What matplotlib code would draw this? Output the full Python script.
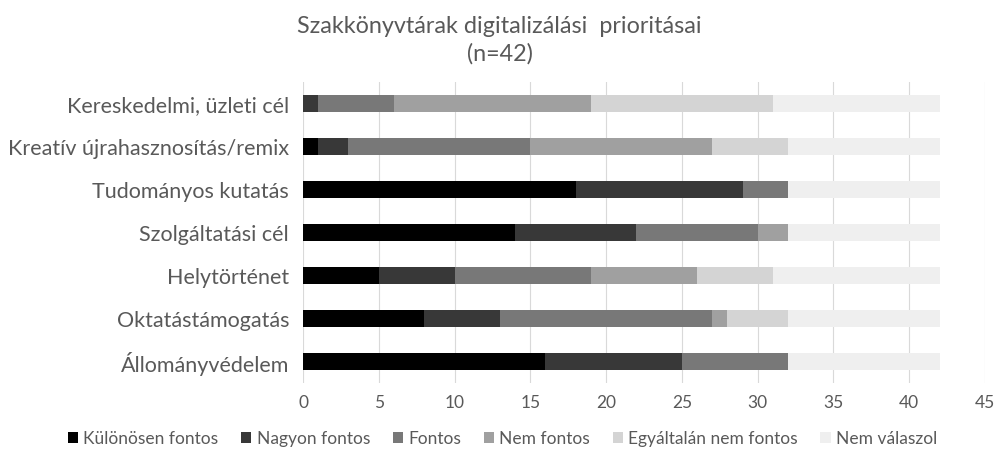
import matplotlib.pyplot as plt
import numpy as np

plt.rcParams['font.family'] = ['Lato', 'DejaVu Sans']

# Kategóriák (alulról felfelé)
kategoriak = ["Állományvédelem", "Oktatástámogatás", "Helytörténet",
              "Szolgáltatási cél", "Tudományos kutatás",
              "Kreatív újrahasznosítás/remix", "Kereskedelmi, üzleti cél"]

kulonosen = [16, 8, 5, 14, 18, 1, 0]
nagyon = [9, 5, 5, 8, 11, 2, 1]
fontos = [7, 14, 9, 8, 3, 12, 5]
nem_fontos = [0, 1, 7, 2, 0, 12, 13]
egyaltalan = [0, 4, 5, 0, 0, 5, 12]
nem_valaszol = [10, 10, 11, 10, 10, 10, 11]

sorozatok = ["Különösen fontos", "Nagyon fontos", "Fontos", "Nem fontos",
             "Egyáltalán nem fontos", "Nem válaszol"]
adatok = [kulonosen, nagyon, fontos, nem_fontos, egyaltalan, nem_valaszol]
szinek = ["#000000", "#383838", "#787878", "#a0a0a0", "#d4d4d4", "#efefef"]

fig = plt.figure(figsize=(10.05, 4.56), dpi=100)
ax = fig.add_axes([0.3015, 0.158, 0.6786, 0.66])

y = np.arange(len(kategoriak))
bal = np.zeros(len(kategoriak))
for nev, ertek, szin in zip(sorozatok, adatok, szinek):
    ax.barh(y, ertek, left=bal, height=0.4, color=szin, label=nev, zorder=3)
    bal += np.array(ertek)

ax.set_xlim(0, 45)
ax.set_ylim(-0.5, len(kategoriak) - 0.5)
ax.set_xticks(np.arange(0, 46, 5))
ax.set_yticks(y)
ax.set_yticklabels(kategoriak, fontsize=15.5, color="#595959")
ax.tick_params(axis='x', labelsize=12.5, colors="#595959", length=0, pad=8)
ax.tick_params(axis='y', length=0, pad=10)
ax.grid(axis='x', color="#d9d9d9", linewidth=0.8, zorder=0)
for s in ax.spines.values():
    s.set_visible(False)

fig.text(0.497, 0.912, "Szakkönyvtárak digitalizálási  prioritásai\n(n=42)",
         ha='center', va='center', fontsize=16.8, color="#595959", linespacing=1.35)

fig.legend(loc='lower center', bbox_to_anchor=(0.5, -0.015), ncol=6,
           frameon=False, fontsize=12.5, labelcolor="#595959",
           handlelength=0.6, handleheight=0.6, handletextpad=0.3, columnspacing=1.3)

fig.savefig("out.png", dpi=100)
